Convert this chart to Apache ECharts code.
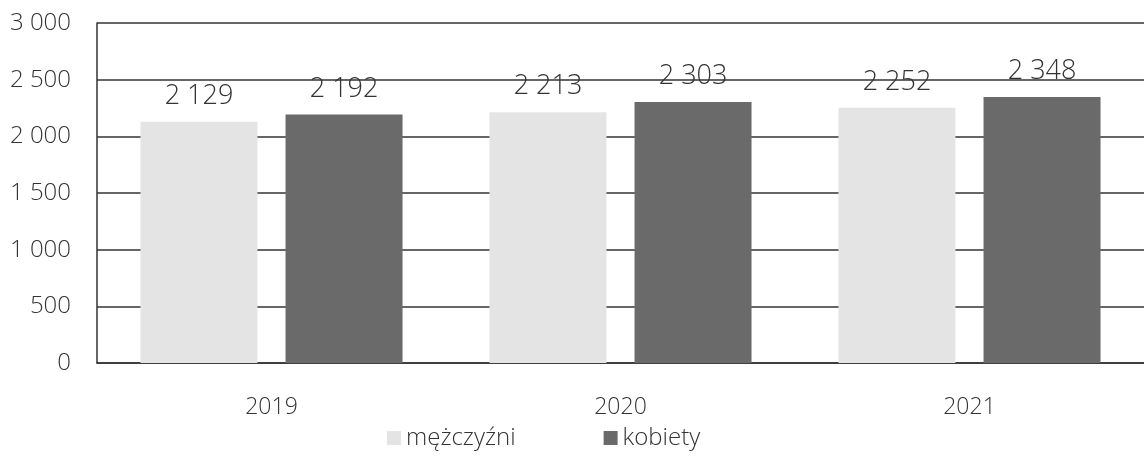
<!DOCTYPE html>
<html>
<head>
<meta charset="utf-8">
<script src="https://cdn.jsdelivr.net/npm/echarts@6/dist/echarts.min.js"></script>
<style>
  html, body { margin: 0; padding: 0; background: #fff; }
  #chart { width: 1144px; height: 457px; }
</style>
</head>
<body>
<div id="chart"></div>
<script>
// dane
const years = ["2019", "2020", "2021"];
const men = [2129, 2213, 2252];
const women = [2192, 2303, 2348];
const seriesNames = ["mężczyźni", "kobiety"];

// 2 129 -> spacja jako separator tysięcy
function fmt(v) {
  return String(v).replace(/\B(?=(\d{3})+(?!\d))/g, " ");
}

const font = "'Open Sans', 'Noto Sans', sans-serif";
const labelStyle = {
  show: true,
  position: "top",
  distance: 12,
  fontFamily: font,
  fontWeight: 300,
  fontSize: 27,
  color: "#333",
  formatter: p => fmt(p.value),
};

let myChart = echarts.init(document.getElementById("chart"));
let option = {
  animation: false,
  color: ["#e4e4e4", "#6a6a6a"],
  grid: {
    left: 97,
    right: -9,
    top: 23,
    bottom: 94,
  },
  legend: {
    bottom: 2,
    left: 382,
    itemGap: 88,
    itemWidth: 14,
    itemHeight: 14,
    icon: "rect",
    data: seriesNames,
    textStyle: {
      fontFamily: font,
      fontWeight: 300,
      fontSize: 24,
      color: "#333",
    },
  },
  xAxis: {
    type: "category",
    data: years,
    axisLine: { lineStyle: { color: "#333", width: 1.5 } },
    axisTick: { show: false },
    axisLabel: {
      margin: 33,
      fontFamily: font,
      fontWeight: 300,
      fontSize: 23,
      color: "#333",
    },
  },
  yAxis: {
    type: "value",
    min: 0,
    max: 3000,
    interval: 500,
    axisLine: { show: true, lineStyle: { color: "#333", width: 1.5 } },
    axisTick: { show: false },
    splitLine: { lineStyle: { color: "#333", width: 1.5 } },
    axisLabel: {
      margin: 26,
      fontFamily: font,
      fontWeight: 300,
      fontSize: 24,
      color: "#333",
      formatter: v => fmt(v),
    },
  },
  series: [
    {
      name: seriesNames[0],
      type: "bar",
      data: men,
      barWidth: 117,
      barGap: "24%",
      label: labelStyle,
    },
    {
      name: seriesNames[1],
      type: "bar",
      data: women,
      barWidth: 117,
      barGap: "24%",
      label: labelStyle,
    },
  ],
};
myChart.setOption(option);
</script>
</body>
</html>
